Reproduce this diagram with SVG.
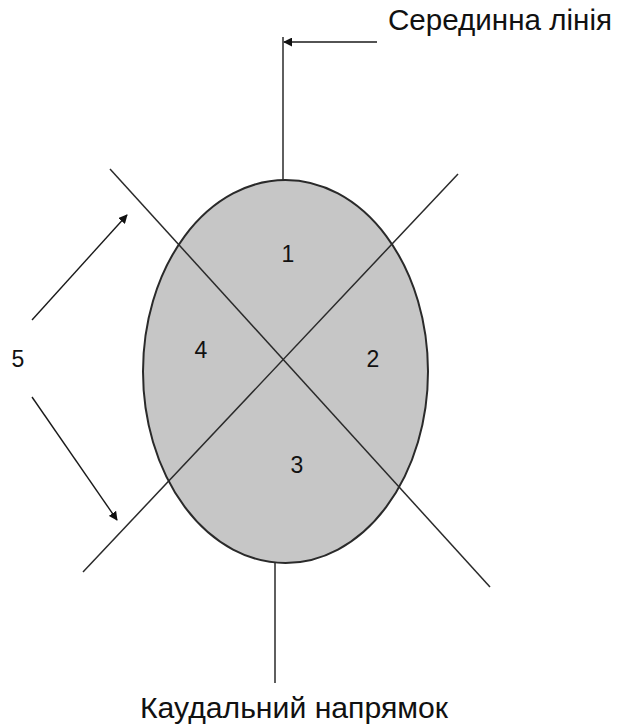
<svg xmlns="http://www.w3.org/2000/svg" width="617" height="726" viewBox="0 0 617 726">
<style>
.ln{stroke:#2a2a2a;stroke-width:1.5;fill:none}
.ar{stroke:#1a1a1a;stroke-width:1.4;fill:none;marker-end:url(#ah)}
.lbl{font-family:"Liberation Sans",Arial,sans-serif;fill:#111}
.num{font-family:"Liberation Sans",Arial,sans-serif;font-size:23px;fill:#111;text-anchor:middle}
</style>
<defs>
<marker id="ah" viewBox="0 0 10 10" refX="9" refY="5" markerWidth="9" markerHeight="9" markerUnits="userSpaceOnUse" orient="auto">
<path d="M0,0 L10,5 L0,10 z" fill="#111"/>
</marker>
</defs>
<rect width="617" height="726" fill="#fff"/>
<g id="oval">
<ellipse cx="285.5" cy="371.5" rx="142.5" ry="191.5" fill="#c6c6c6" stroke="#2a2a2a" stroke-width="2"/>
</g>
<g id="connectors">
<line class="ln" x1="283" y1="37" x2="283" y2="180"/>
<line class="ar" x1="377" y1="42" x2="284" y2="42"/>
<line class="ln" x1="275" y1="563" x2="275" y2="683"/>
<line class="ln" x1="110" y1="169" x2="490" y2="587"/>
<line class="ln" x1="458" y1="174" x2="83" y2="572"/>
<line class="ar" x1="32" y1="320" x2="127" y2="215"/>
<line class="ar" x1="32" y1="397" x2="117" y2="520"/>
</g>
<g id="label-top"><text class="lbl" x="388" y="30" font-size="29.5" textLength="224" lengthAdjust="spacingAndGlyphs">Серединна лінія</text></g>
<g id="label-bottom"><text class="lbl" x="140" y="718" font-size="30" textLength="308" lengthAdjust="spacingAndGlyphs">Каудальний напрямок</text></g>
<g id="n1"><text class="num" x="288" y="262">1</text></g>
<g id="n2"><text class="num" x="373" y="367">2</text></g>
<g id="n3"><text class="num" x="297" y="473">3</text></g>
<g id="n4"><text class="num" x="201" y="358">4</text></g>
<g id="n5"><text class="num" x="18" y="367">5</text></g>
</svg>
